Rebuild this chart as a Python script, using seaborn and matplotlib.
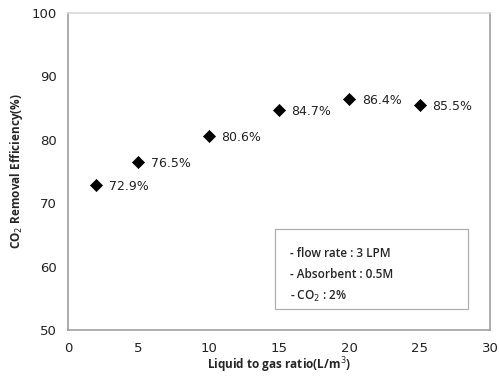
import matplotlib
matplotlib.use("Agg")
import matplotlib.pyplot as plt
import seaborn as sns

# Data
ratio = [2, 5, 10, 15, 20, 25]
efficiency = [72.9, 76.5, 80.6, 84.7, 86.4, 85.5]
x_ticks = [0, 5, 10, 15, 20, 25, 30]
y_ticks = [50, 60, 70, 80, 90, 100]
conditions = ["- flow rate : 3 LPM", "- Absorbent : 0.5M", "- CO$_2$ : 2%"]

sns.set_style("white")
plt.rcParams["font.family"] = ["DejaVu Sans"]

fig = plt.figure(figsize=(4.99, 3.78), dpi=100)
ax = fig.add_axes([0.136, 0.127, 0.846, 0.839])

sns.scatterplot(x=ratio, y=efficiency, marker="D", s=38, color="black",
                edgecolor="black", ax=ax, zorder=3)

for xv, yv in zip(ratio, efficiency):
    ax.annotate(f"{yv}%", (xv, yv), xytext=(9, -1), textcoords="offset points",
                va="center", ha="left", fontsize=9, color="#222222")

ax.set_xlim(0, 30)
ax.set_ylim(50, 100)
ax.set_xticks(x_ticks)
ax.set_yticks(y_ticks)
ax.tick_params(direction="in", length=4, color="#999999", labelsize=9.5,
               labelcolor="#222222", pad=8)
ax.tick_params(axis="x", pad=9)

for side in ["left", "bottom", "right"]:
    ax.spines[side].set_color("#a0a0a0")
    ax.spines[side].set_linewidth(1.2)
ax.spines["top"].set_color("#d8d8d8")
ax.spines["top"].set_linewidth(1.2)

label_font = ["Open Sans", "DejaVu Sans"]
ax.set_xlabel("Liquid to gas ratio(L/m$^3$)", fontsize=8.5, fontweight="bold",
              family=label_font, labelpad=0)
ax.set_ylabel("CO$_2$ Removal Efficiency(%)", fontsize=8.5, fontweight="bold",
              family=label_font, labelpad=5)

# Condition box
box = plt.Rectangle((14.7, 53.3), 13.7, 12.6, transform=ax.transData,
                    facecolor="white", edgecolor="#b0b0b0", linewidth=0.9, zorder=2)
ax.add_patch(box)
for i, line in enumerate(conditions):
    ax.text(15.8, 62.1 - i * 3.4, line, fontsize=8.5, va="center", ha="left",
            family=label_font, fontweight="semibold", zorder=4)

fig.savefig("out.png", dpi=100)
plt.close(fig)
